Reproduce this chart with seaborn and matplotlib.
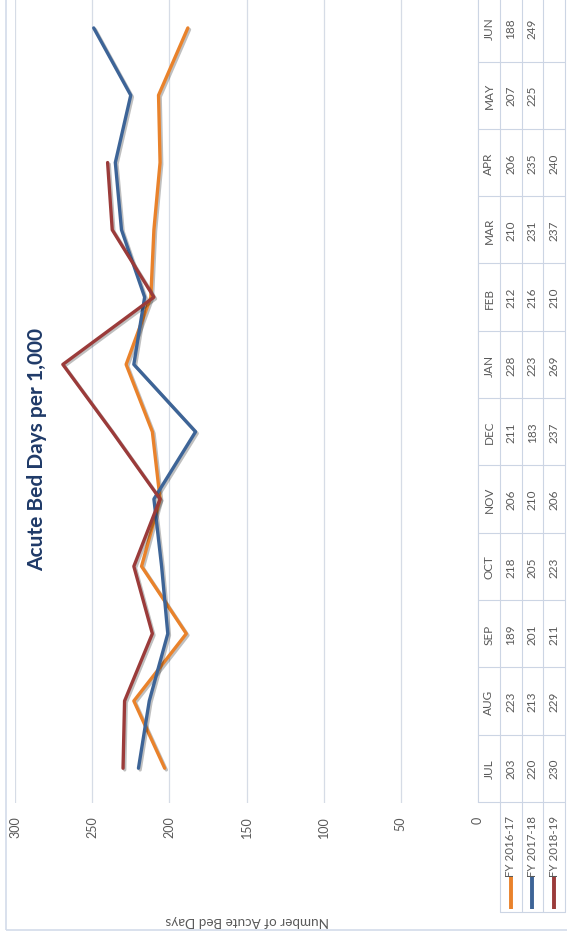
import matplotlib
matplotlib.use("Agg")
import matplotlib.pyplot as plt
import matplotlib.patheffects as pe
from matplotlib.patches import Rectangle
import numpy as np
import pandas as pd
import seaborn as sns

months = ["JUL", "AUG", "SEP", "OCT", "NOV", "DEC", "JAN", "FEB", "MAR", "APR", "MAY", "JUN"]
fy1617 = [203, 223, 189, 218, 206, 211, 228, 212, 210, 206, 207, 188]
fy1718 = [220, 213, 201, 205, 210, 183, 223, 216, 231, 235, 225, 249]
fy1819 = [230, 229, 211, 223, 206, 237, 269, 210, 237, 240, None, None]
series_names = ["FY 2016-17", "FY 2017-18", "FY 2018-19"]
series_colors = ["#E9822B", "#3D6497", "#9B3B3A"]
value_ticks = [0, 50, 100, 150, 200, 250, 300]

sns.set_style("white")
plt.rcParams["font.family"] = ["Lato", "DejaVu Sans"]

W, H = 567, 937
month_px = 67.3          # pixel height of one month slot
top_unit = 11.43         # month units at the top edge of the figure
grey = "#595959"
line_c = "#CCD5E4"

def u(py):
    # figure pixel row -> month units
    return top_unit - py / month_px

# long table for seaborn
rows = []
for name, vals in zip(series_names, [fy1617, fy1718, fy1819]):
    for i, v in enumerate(vals):
        rows.append({"series": name, "m": i, "value": v})
df = pd.DataFrame(rows).dropna()

fig = plt.figure(figsize=(W / 100, H / 100), dpi=100)

# plot area (rotated chart: values run right-to-left, months bottom-to-top)
plot_bottom_px = 804
ax = fig.add_axes([15 / W, 1 - plot_bottom_px / H, 463 / W, plot_bottom_px / H])
sns.lineplot(data=df, x="value", y="m", hue="series", orient="y", estimator=None,
             palette=dict(zip(series_names, series_colors)), hue_order=series_names,
             lw=2.4, legend=False, ax=ax, sort=True)
for ln in ax.get_lines():
    ln.set_path_effects([pe.SimpleLineShadow(offset=(1.2, -1.2), alpha=0.25), pe.Normal()])
ax.set_xlim(300, 0)
ax.set_ylim(u(plot_bottom_px), top_unit)
ax.set_xticks(value_ticks)
ax.set_yticks([])
ax.grid(axis="x", color="#D6DCE6", lw=0.9)
ax.tick_params(axis="x", length=0, pad=9, labelrotation=90, labelsize=9, labelcolor=grey)
ax.set_xlabel("")
ax.set_ylabel("")
sns.despine(ax=ax, left=True, bottom=True)
ax.patch.set_alpha(0)

# data table on the right
tax = fig.add_axes([478 / W, 0, 89 / W, 1])
tax.set_xlim(0, 89 / 21.75)
tax.set_ylim(u(H), top_unit)
tax.axis("off")
leg_bottom = u(913)
n = len(months)
for i in range(n + 1):
    tax.plot([0, 4], [i - 0.5, i - 0.5], color=line_c, lw=0.8)
for k in range(5):
    y0 = -0.5 if k == 0 else leg_bottom
    tax.plot([k, k], [y0, n], color=line_c, lw=0.8)
tax.plot([1, 4], [leg_bottom, leg_bottom], color=line_c, lw=0.8)

for i, m in enumerate(months):
    tax.text(0.5, i, m, rotation=90, ha="center", va="center", fontsize=8.5, color=grey)
for k, vals in enumerate([fy1617, fy1718, fy1819]):
    for i, v in enumerate(vals):
        if v is not None:
            tax.text(k + 1.5, i, str(v), rotation=90, ha="center", va="center",
                     fontsize=8.5, color=grey)
    tax.plot([k + 1.5, k + 1.5], [u(910), u(877)], color=series_colors[k], lw=2.8,
             solid_capstyle="butt")
    tax.text(k + 1.5, u(877), series_names[k], rotation=90,
             ha="center", va="bottom", fontsize=8.3, color=grey)

# titles
fig.text(37 / W, 1 - 450 / H, "Acute Bed Days per 1,000", rotation=90, ha="center",
         va="center", fontsize=15, fontweight="bold", color="#1F3A68")
fig.text(247 / W, 1 - 921 / H, "Number of Acute Bed Days", rotation=180, ha="center",
         va="center", fontsize=9.7, color=grey)

# chart border
fig.add_artist(Rectangle((6 / W, 1 - 931 / H), 1, 931 / H + 0.01, fill=False,
                         ec="#D3DCEA", lw=1.2, transform=fig.transFigure))

fig.savefig("out.png", dpi=100)
